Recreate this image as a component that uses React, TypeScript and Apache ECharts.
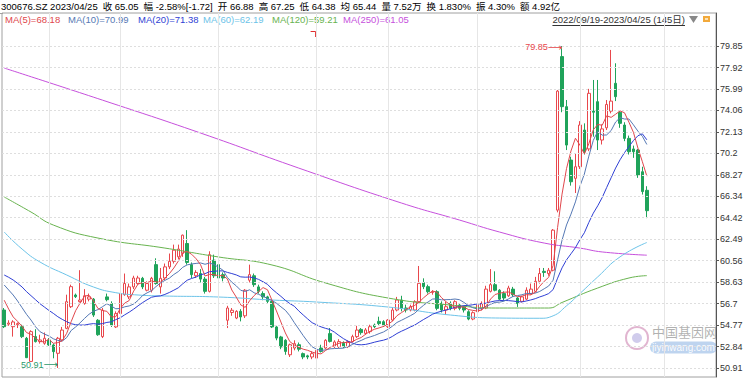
import React, { useEffect, useRef } from 'react';
import * as echarts from 'echarts';

// ---------------- data ----------------
const tradingMonths: [string, number[]][] = [
  ['2022/09', [19, 20, 21, 22, 23, 26, 27, 28, 29, 30]],
  ['2022/10', [10, 11, 12, 13, 14, 17, 18, 19, 20, 21, 24, 25, 26, 27, 28, 31]],
  ['2022/11', [1, 2, 3, 4, 7, 8, 9, 10, 11, 14, 15, 16, 17, 18, 21, 22, 23, 24, 25, 28, 29, 30]],
  ['2022/12', [1, 2, 5, 6, 7, 8, 9, 12, 13, 14, 15, 16, 19, 20, 21, 22, 23, 26, 27, 28, 29, 30]],
  ['2023/01', [3, 4, 5, 6, 9, 10, 11, 12, 13, 16, 17, 18, 19, 20, 30, 31]],
  ['2023/02', [1, 2, 3, 6, 7, 8, 9, 10, 13, 14, 15, 16, 17, 20, 21, 22, 23, 24, 27, 28]],
  ['2023/03', [1, 2, 3, 6, 7, 8, 9, 10, 13, 14, 15, 16, 17, 20, 21, 22, 23, 24, 27, 28, 29, 30, 31]],
  ['2023/04', [3, 4, 6, 7, 10, 11, 12, 13, 14, 17, 18, 19, 20, 21, 24, 25]],
];
// empty future slots kept on the axis
const futureMonths: [string, number[]][] = [
  ['2023/04', [26, 27, 28]],
  ['2023/05', [4, 5, 8, 9, 10, 11, 12, 15, 16, 17, 18, 19]],
];

const opens = [
  56.12, 54.85, 54.62, 54.8, 54.62, 53.58, 51.5, 53.73, 53.28, 53.13,
  53.43, 52.98, 52.23, 53.43, 54.47, 56.42, 57.47, 56.87, 56.7, 57.1,
  57.1, 55.2, 53.73, 57.3, 56.7, 54.6, 55.8, 57.5, 57.3, 58.2,
  58.5, 58.97, 57.9, 57.9, 60.2, 58.2, 59.0, 60.0, 60.5, 60.9,
  61.2, 62.1, 60.2, 59.2, 59.4, 58.9, 57.8, 60.6, 60.2, 59.3,
  55.2, 55.9, 55.4, 56.0, 55.6, 58.8, 59.2, 58.2, 57.6, 57.3,
  56.9, 54.6, 53.7, 53.4, 52.1, 52.7, 53.0, 52.2, 52.0, 51.9,
  51.8, 52.7, 52.7, 54.0, 52.83, 52.83, 53.13, 52.83, 53.28, 53.73,
  54.38, 54.02, 54.18, 54.77, 55.1, 55.07, 54.62, 55.22, 56.12, 57.02,
  56.3, 56.12, 56.12, 56.87, 58.58, 58.22, 57.7, 57.77, 56.72, 56.12,
  56.72, 56.27, 56.57, 56.42, 55.97, 55.31, 55.97, 56.27, 56.3, 57.8,
  58.4, 57.9, 57.6, 57.4, 58.0, 57.2, 56.9, 57.1, 57.6, 57.8,
  58.7, 59.6, 59.4, 59.7, 65.1, 78.9, 74.4, 69.6, 67.96, 69.0,
  72.3, 70.6, 74.0, 74.85, 71.4, 72.5, 74.0, 76.5, 73.9, 72.75,
  71.55, 70.6, 70.5, 68.55, 66.88,
];
const closes = [
  54.62, 54.95, 55.05, 54.9, 53.73, 51.84, 54.18, 53.28, 53.43, 53.58,
  52.98, 52.38, 53.58, 54.32, 56.87, 58.22, 57.32, 57.02, 57.4, 57.3,
  55.67, 53.9, 56.1, 57.05, 54.77, 55.8, 57.6, 58.5, 58.2, 59.0,
  59.0, 58.2, 58.5, 58.97, 58.5, 58.97, 60.0, 60.5, 61.5, 61.6,
  62.85, 60.4, 59.3, 59.5, 58.9, 57.8, 61.1, 59.2, 59.0, 59.0,
  56.3, 56.1, 56.0, 55.5, 57.9, 59.3, 58.4, 57.8, 57.3, 56.9,
  54.6, 53.6, 52.8, 52.4, 53.0, 53.1, 52.6, 51.9, 51.9, 52.2,
  52.5, 52.4, 53.4, 53.3, 53.25, 53.28, 52.83, 53.28, 53.73, 54.32,
  54.09, 54.33, 54.62, 54.62, 54.9, 54.77, 55.22, 56.12, 57.02, 56.27,
  56.12, 56.42, 56.87, 58.52, 58.22, 57.77, 57.77, 56.27, 56.12, 56.42,
  56.27, 56.87, 56.27, 56.12, 55.31, 55.88, 56.57, 56.72, 58.0, 58.4,
  57.9, 57.1, 57.2, 58.1, 57.5, 56.7, 57.3, 57.9, 58.0, 58.7,
  59.4, 59.5, 59.7, 63.3, 75.8, 74.4, 70.95, 67.65, 69.0, 72.75,
  70.35, 75.6, 73.9, 71.4, 72.4, 74.6, 74.9, 75.3, 72.9, 71.55,
  70.35, 70.35, 68.25, 66.77, 65.05,
];
const lows = [
  54.5, 54.7, 53.73, 54.5, 53.6, 51.8, 51.48, 53.2, 53.1, 53.0,
  52.9, 51.78, 50.91, 53.3, 54.4, 56.3, 57.2, 56.8, 56.6, 56.9,
  55.5, 53.8, 53.6, 56.9, 54.6, 54.5, 55.7, 57.4, 57.1, 58.0,
  58.4, 58.0, 57.8, 57.7, 58.4, 57.6, 58.8, 59.8, 60.3, 60.7,
  60.9, 60.2, 59.0, 59.0, 58.6, 57.6, 57.7, 59.0, 58.8, 58.7,
  54.5, 55.6, 55.3, 55.1, 55.4, 58.6, 58.2, 57.6, 57.0, 56.7,
  54.5, 53.4, 52.6, 52.1, 51.9, 52.5, 52.4, 51.7, 51.7, 51.7,
  51.7, 52.3, 52.6, 53.2, 52.7, 52.7, 52.7, 52.7, 53.2, 53.6,
  53.9, 53.9, 54.0, 54.5, 54.7, 54.6, 54.5, 55.1, 56.0, 56.0,
  55.9, 56.0, 56.0, 56.7, 58.0, 57.6, 57.5, 56.1, 55.9, 55.67,
  56.1, 56.1, 56.1, 55.9, 55.2, 55.2, 55.8, 56.1, 56.2, 57.7,
  57.8, 57.0, 57.0, 57.3, 57.3, 56.4, 56.8, 57.0, 57.5, 57.7,
  58.5, 59.1, 59.2, 59.6, 64.9, 73.9, 70.5, 67.3, 66.64, 68.8,
  70.1, 70.4, 71.7, 70.5, 71.0, 72.3, 73.8, 74.9, 72.5, 71.3,
  70.1, 69.8, 68.0, 66.5, 64.38,
];
const highs = [
  56.3, 55.2, 55.2, 55.0, 54.8, 53.7, 54.3, 54.4, 53.9, 54.1,
  53.6, 53.1, 53.7, 54.6, 57.5, 58.4, 57.6, 59.7, 58.0, 57.6,
  57.2, 55.3, 56.3, 57.6, 56.9, 56.0, 57.8, 59.4, 58.5, 59.2,
  59.2, 59.1, 58.7, 59.1, 60.77, 59.9, 60.3, 61.2, 62.0, 62.0,
  62.9, 63.3, 60.4, 59.7, 59.8, 59.1, 61.4, 61.1, 60.4, 59.5,
  56.5, 56.3, 56.1, 56.2, 58.0, 60.2, 59.4, 58.4, 57.8, 57.4,
  57.0, 54.7, 53.8, 53.5, 53.1, 53.4, 53.2, 52.3, 52.1, 52.4,
  52.7, 53.0, 53.5, 54.5, 53.4, 53.5, 53.3, 53.4, 53.9, 54.7,
  54.5, 54.5, 54.8, 54.9, 55.52, 55.2, 55.3, 56.3, 57.3, 57.4,
  56.6, 56.6, 57.0, 60.08, 58.97, 58.4, 57.9, 57.9, 56.9, 56.87,
  56.9, 57.0, 56.7, 56.5, 56.1, 56.0, 56.7, 56.9, 58.3, 59.8,
  59.6, 58.0, 57.8, 58.3, 58.2, 57.3, 57.4, 58.16, 58.5, 59.1,
  59.9, 59.9, 59.9, 63.4, 75.9, 79.85, 75.0, 69.9, 70.2, 73.1,
  72.9, 76.0, 76.8, 76.8, 72.8, 75.0, 79.5, 78.3, 74.1, 73.0,
  71.8, 70.9, 70.6, 69.0, 67.25,
];

const ma5Head = [57.0, 56.2, 55.5, 55.1];
const ma10Head = [58.37, 57.92, 57.47, 56.93, 56.33, 55.73, 55.22, 54.62, 54.18];
const ma20Head = [59.27, 59.06, 58.82, 58.52, 58.19, 57.77, 57.41, 57.05, 56.69, 56.39,
  56.09, 55.82, 55.52, 55.28, 55.07, 54.89, 54.8, 54.77, 54.77];

// long averages: [candle index, value]
const ma60Pts: [number, number][] = [
  [0, 63.13], [4, 61.6], [8, 60.44], [14, 59.27], [20, 58.19], [25, 57.68], [30, 57.47],
  [36, 57.38], [48, 57.29], [60, 57.02], [70, 56.84], [86, 56.39], [100, 55.67], [111, 55.4],
  [120, 55.38], [123, 55.6], [126, 56.5], [129, 57.6], [133, 59.1], [138, 60.9], [144, 62.19],
];
const ma120Pts: [number, number][] = [
  [0, 66.28], [6, 64.93], [11, 63.76], [21, 62.59], [36, 61.69], [48, 60.89], [60, 60.17],
  [72, 58.55], [86, 57.2], [100, 56.57], [111, 56.3], [122, 56.3], [125, 56.8], [133, 58.1],
  [140, 59.0], [144, 59.21],
];
const ma250Pts: [number, number][] = [
  [0, 77.87], [22, 74.99], [44, 72.03], [66, 68.88], [89, 65.74], [102, 64.21], [111, 63.13],
  [121, 62.14], [129, 61.69], [134, 61.34], [144, 61.05],
];

const yTickLabels = ['79.85', '77.92', '75.99', '74.06', '72.13', '70.2', '68.27', '66.34',
  '64.42', '62.49', '60.56', '58.63', '56.7', '54.77', '52.84', '50.91'];

const headerCode = '300676.SZ 2023/04/25';
const headerItems: [string, string, 'k' | 'g' | 'r'][] = [
  ['收', '65.05', 'g'], ['幅', '-2.58%[-1.72]', 'g'], ['开', '66.88', 'r'], ['高', '67.25', 'r'],
  ['低', '64.38', 'g'], ['均', '65.44', 'g'], ['量', '7.52万', 'k'], ['换', '1.830%', 'k'],
  ['振', '4.30%', 'k'], ['额', '4.92亿', 'k'],
];
const maNames = ['MA(5)', 'MA(10)', 'MA(20)', 'MA(60)', 'MA(120)', 'MA(250)'];
const maLastValues = ['68.18', '70.99', '71.38', '62.19', '59.21', '61.05'];
const rangeText = '2022/09/19-2023/04/25 (145日)';
const watermarkTitle = '中国基因网';
const watermarkSite = 'jiyinwang.com';

// ---------------- styles / layout ----------------
const FONT = '"Liberation Sans", Arial, "Noto Sans CJK SC", sans-serif';
const RED = '#e8474c';
const GREEN = '#1fa35a';
const MA_COLORS = ['#e0474c', '#5578b4', '#2f3fd4', '#6cc3e8', '#68b34f', '#c650dc'];
const LEGEND_X = [5, 68, 138, 203, 272, 343];
const HEADER_SIZE = 9.5;
const HEADER_GAP = 5;
const Y_MIN = 50.1;
const Y_MAX = 82.82;

function movingAverage(period: number, head: number[]) {
  return closes.map((_, i) => {
    if (i < period - 1) return head[i];
    let s = 0;
    for (let k = i - period + 1; k <= i; k++) s += closes[k];
    return +(s / period).toFixed(3);
  });
}

function measure(text: string, size: number) {
  const ctx = document.createElement('canvas').getContext('2d')!;
  ctx.font = `${size}px ${FONT}`;
  return ctx.measureText(text).width;
}

export default function App() {
  const ref = useRef<HTMLDivElement>(null);

  useEffect(() => {
    if (!ref.current) return;
    const chart = echarts.init(ref.current, undefined, { renderer: 'svg' });

    const dates: string[] = [];
    tradingMonths.forEach(([m, ds]) => ds.forEach((d) => dates.push(`${m}/${String(d).padStart(2, '0')}`)));
    const nTrade = dates.length;
    futureMonths.forEach(([m, ds]) => ds.forEach((d) => dates.push(`${m}/${String(d).padStart(2, '0')}`)));

    const monthStarts: number[] = [];
    for (let i = 1; i < dates.length; i++) {
      if (dates[i].slice(0, 7) !== dates[i - 1].slice(0, 7)) monthStarts.push(i);
    }
    let yearStart = 0;
    for (let i = 1; i < dates.length; i++) {
      if (dates[i].slice(0, 4) !== dates[i - 1].slice(0, 4)) { yearStart = i; break; }
    }

    const candleData = dates.slice(0, nTrade).map((_, i) => [opens[i], closes[i], lows[i], highs[i]]);
    const ma5 = movingAverage(5, ma5Head);
    const ma10 = movingAverage(10, ma10Head);
    const ma20 = movingAverage(20, ma20Head);

    const yTicks = yTickLabels.map(Number);
    const hiIdx = highs.indexOf(Math.max(...highs));
    const loIdx = lows.indexOf(Math.min(...lows));

    const lineSeries = (name: string, data: any[], color: string, smooth: boolean) => ({
      name, type: 'line', data, showSymbol: false, symbol: 'none', smooth,
      lineStyle: { color, width: 1 }, itemStyle: { color }, z: 4, silent: true,
    });

    const option: any = {
      animation: false,
      backgroundColor: '#ffffff',
      grid: { left: 2, right: 34, top: 13, bottom: 2, show: true, borderColor: '#a0a0a0', borderWidth: 1 },
      xAxis: {
        type: 'category', data: dates, boundaryGap: true,
        axisLine: { show: false }, axisTick: { show: false }, axisLabel: { show: false }, splitLine: { show: false },
      },
      yAxis: {
        type: 'value', position: 'right', min: Y_MIN, max: Y_MAX,
        axisLine: { show: true, lineStyle: { color: '#555' } },
        axisTick: { show: true, customValues: yTicks, length: 3, lineStyle: { color: '#555' } },
        axisLabel: {
          show: true, customValues: yTicks, margin: 4, color: '#333', fontSize: 9, fontFamily: FONT,
          formatter: (v: number) => String(+(+v).toFixed(2)),
        },
        splitLine: { show: false },
      },
      series: [
        {
          name: 'grid', type: 'line', data: [], z: 1, silent: true,
          markLine: {
            silent: true, symbol: ['none', 'none'], label: { show: false }, animation: false,
            data: [
              ...yTicks.map((v) => ({ yAxis: v, lineStyle: { color: '#dedede', type: [2, 2], width: 1 } })),
              ...monthStarts.map((i) => ({ xAxis: dates[i], lineStyle: { color: '#e6e6e6', type: 'solid', width: 1 } })),
            ],
          },
        },
        {
          name: 'K', type: 'candlestick', data: candleData, barWidth: 3, z: 2,
          itemStyle: { color: '#ffffff', color0: GREEN, borderColor: RED, borderColor0: GREEN, borderWidth: 1 },
          markPoint: {
            symbol: 'circle', symbolSize: 0, silent: true, animation: false,
            data: [
              {
                coord: [dates[hiIdx], highs[hiIdx]],
                label: {
                  show: true, position: 'left', distance: 0, offset: [0, 1],
                  formatter: `{t|${highs[hiIdx].toFixed(2)}}{a|⟶}`,
                  rich: {
                    t: { color: RED, fontSize: 9, fontFamily: FONT },
                    a: { color: RED, fontSize: 10, fontFamily: 'DejaVu Sans' },
                  },
                },
              },
              {
                coord: [dates[loIdx], lows[loIdx]],
                label: {
                  show: true, position: 'left', distance: 0, offset: [0, -3],
                  formatter: `{t|${lows[loIdx].toFixed(2)}}{a|⟶}`,
                  rich: {
                    t: { color: '#2b9a6c', fontSize: 9, fontFamily: FONT },
                    a: { color: '#2b9a6c', fontSize: 10, fontFamily: 'DejaVu Sans' },
                  },
                },
              },
            ],
          },
        },
        lineSeries(maNames[5], ma250Pts, MA_COLORS[5], true),
        lineSeries(maNames[4], ma120Pts, MA_COLORS[4], true),
        lineSeries(maNames[3], ma60Pts, MA_COLORS[3], true),
        lineSeries(maNames[2], ma20, MA_COLORS[2], false),
        lineSeries(maNames[1], ma10, MA_COLORS[1], false),
        lineSeries(maNames[0], ma5, MA_COLORS[0], false),
      ],
    };
    chart.setOption(option);

    // ---- texts and decorations ----
    const rich: any = {
      k: { color: '#222', fontSize: HEADER_SIZE, fontFamily: FONT },
      g: { color: GREEN, fontSize: HEADER_SIZE, fontFamily: FONT },
      r: { color: RED, fontSize: HEADER_SIZE, fontFamily: FONT },
      s: { width: HEADER_GAP, fontSize: HEADER_SIZE, fontFamily: FONT },
    };
    const headerText = `{k|${headerCode}}{s| }` +
      headerItems.map(([l, v, c]) => `{k|${l} }{${c}|${v}}`).join('{s| }');

    const yearX = chart.convertToPixel({ xAxisIndex: 0 }, dates[yearStart]) as unknown as number;
    const rangeSize = 9.5;
    const rangeW = measure(rangeText, rangeSize);
    const rangeRight = 685;

    const graphics: any[] = [
      { type: 'text', x: 1, y: 6, silent: true,
        style: { text: headerText, rich, fontSize: HEADER_SIZE, fontFamily: FONT, verticalAlign: 'middle', textVerticalAlign: 'middle' } },
      ...maNames.map((n, i) => ({
        type: 'text', x: LEGEND_X[i], y: 19.5, silent: true,
        style: { text: `${n}=${maLastValues[i]}`, fill: MA_COLORS[i], fontSize: 9.5, fontFamily: FONT,
          verticalAlign: 'middle', textVerticalAlign: 'middle' },
      })),
      { type: 'text', x: rangeRight, y: 19.5, silent: true,
        style: { text: rangeText, fill: '#333', fontSize: rangeSize, fontFamily: FONT,
          align: 'right', textAlign: 'right', verticalAlign: 'middle', textVerticalAlign: 'middle' } },
      { type: 'line', silent: true, shape: { x1: rangeRight - rangeW, y1: 25.5, x2: rangeRight, y2: 25.5 },
        style: { stroke: '#333', lineWidth: 1 } },
      { type: 'polygon', silent: true, shape: { points: [[689, 16], [698, 16], [693.5, 23]] },
        style: { fill: '#888' } },
      { type: 'rect', silent: true, shape: { x: 703, y: 16, width: 7, height: 6 }, style: { fill: '#f2a93b' } },
      { type: 'rect', silent: true, shape: { x: 705, y: 18, width: 3, height: 2 }, style: { fill: '#fbe2b5' } },
      { type: 'polyline', silent: true,
        shape: { points: [[yearX - 6, 31.5], [yearX - 1, 31.5], [yearX - 1, 37]] },
        style: { stroke: '#e03030', lineWidth: 1, fill: null } },
      // watermark (kept left of the axis labels)
      { type: 'circle', silent: true, shape: { cx: 637, cy: 338, r: 11 },
        style: { fill: 'rgba(255,255,255,0.5)', stroke: 'rgba(200,120,170,0.55)', lineWidth: 2 } },
      { type: 'circle', silent: true, shape: { cx: 637, cy: 338, r: 5 },
        style: { fill: 'rgba(120,110,200,0.35)' } },
      { type: 'text', x: 652, y: 331, silent: true,
        style: { text: watermarkTitle, fill: 'rgba(110,110,110,0.55)', fontSize: 13,
          fontFamily: '"Noto Sans CJK SC", sans-serif', verticalAlign: 'middle', textVerticalAlign: 'middle' } },
      { type: 'rect', silent: true, shape: { x: 650, y: 341.5, width: 67, height: 12, r: 6 },
        style: { fill: 'rgba(110,160,220,0.45)' } },
      { type: 'text', x: 683.5, y: 347.5, silent: true,
        style: { text: watermarkSite, fill: 'rgba(255,255,255,0.95)', fontSize: 10, fontFamily: FONT,
          align: 'center', textAlign: 'center', verticalAlign: 'middle', textVerticalAlign: 'middle' } },
      { type: 'line', silent: true, shape: { x1: 0, y1: 13.5, x2: 3, y2: 13.5 }, style: { stroke: '#a0a0a0' } },
    ];
    chart.setOption({ graphic: graphics });

    return () => chart.dispose();
  }, []);

  return (
    <div
      ref={ref}
      style={{ position: 'fixed', left: 0, top: 0, width: 750, height: 379, background: '#fff' }}
    />
  );
}
